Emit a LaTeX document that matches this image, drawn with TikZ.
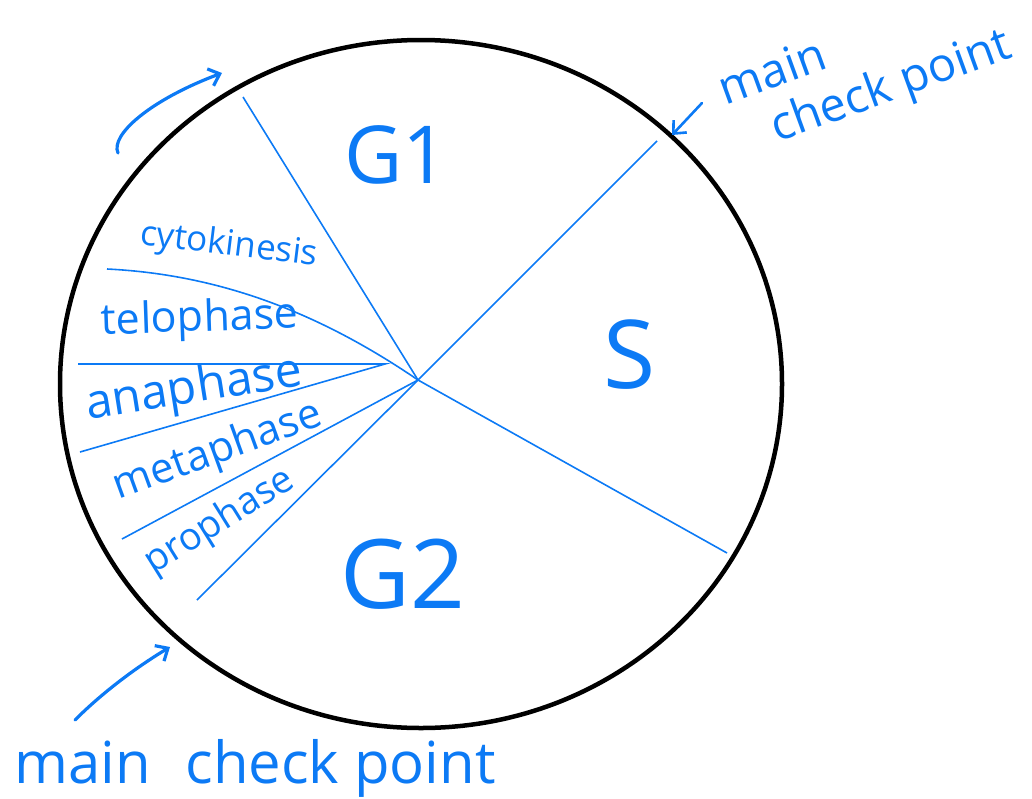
\documentclass[tikz,border=0pt]{standalone}
\usepackage{fontspec}
\setmainfont{Open Sans}
\usetikzlibrary{arrows.meta}
\definecolor{pen}{RGB}{12,122,245}
\tikzset{
  divider/.style={draw=pen, line width=1.6pt},
  phase/.style={text=pen, inner sep=0pt, font=\fontsize{#1}{#1}\selectfont},
  note/.style={draw=pen, line width=3.2pt, line cap=round, -{Straight Barb[length=10pt,width=18pt]}}
}
\begin{document}
\begin{tikzpicture}[x=1pt,y=-1pt]
  \useasboundingbox (0,0) rectangle (1032,798);
  \draw [line width=4.5pt] (421,384) ellipse [x radius=361, y radius=344];
  \coordinate (hub) at (418,380);
  \coordinate (g1top) at (243,97);
  \coordinate (sTop) at (657,141);
  \coordinate (sBot) at (727,553);
  \coordinate (g2end) at (197,600);
  \coordinate (proEnd) at (122,539);
  \coordinate (metaEnd) at (80,452);
  \coordinate (anaTip) at (385,364);
  \coordinate (anaEnd) at (78,364);
  \coordinate (teloEnd) at (107,269);
  \draw [divider] (hub) -- (g1top);
  \draw [divider] (hub) -- (sTop);
  \draw [divider] (hub) -- (sBot);
  \draw [divider] (hub) -- (g2end);
  \draw [divider] (hub) -- (proEnd);
  \draw [divider] (metaEnd) -- (anaTip) -- (anaEnd);
  \draw [divider] (teloEnd) .. controls (230,275) and (330,320) .. (hub);

  \node [phase=80] (g1) at (396,155) {G1};
  \node [phase=95] (s) at (630,355) {S};
  \node [phase=96] (g2) at (403,574) {G2};
  \node [phase=35, rotate=-7] (cyto) at (229,246) {cytokinesis};
  \node [phase=43, rotate=2] (telo) at (200,320) {telophase};
  \node [phase=48, rotate=9] (ana) at (194,390) {anaphase};
  \node [phase=42, rotate=20] (meta) at (218,452) {metaphase};
  \node [phase=38, rotate=32] (pro) at (220,522) {prophase};

  \node [phase=47, rotate=20, align=left] (checkTop) at (866,70)
        {main\\[6pt]\hspace{36pt}check point};
  \node [phase=58] (checkBot) at (255,768) {main\hspace{0.6em}check point};

  \coordinate (arrTail) at (702,103);
  \coordinate (arrTip) at (672,135);
  \draw [note, line width=2.6pt] (arrTail) -- (arrTip);
  \coordinate (botTail) at (75,720);
  \coordinate (botTip) at (170,647);
  \draw [note] (botTail) .. controls (105,690) and (140,665) .. (botTip);
  \coordinate (topTail) at (118,153);
  \coordinate (topTip) at (222,73);
  \draw [note] (topTail) .. controls (110,135) and (150,100) .. (topTip);
\end{tikzpicture}
\end{document}
